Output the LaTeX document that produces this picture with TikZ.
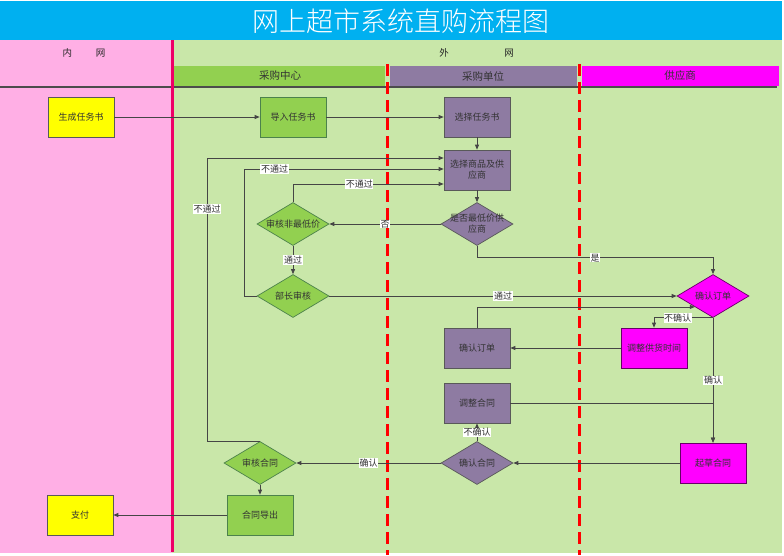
\documentclass[tikz,border=0pt]{standalone}
\usepackage{fontspec}
\setmainfont{Noto Sans CJK SC}
\newfontfamily\titlefont{Noto Sans CJK SC Light}
\usetikzlibrary{shapes.geometric,arrows.meta,calc}
\definecolor{titlebg}{HTML}{00B0F0}
\definecolor{pinkbg}{HTML}{FFAFE5}
\definecolor{greenbg}{HTML}{C9E7A9}
\definecolor{gnode}{HTML}{92D050}
\definecolor{pnode}{HTML}{8E7BA2}
\definecolor{mnode}{HTML}{FF00FF}
\definecolor{ynode}{HTML}{FFFF00}
\definecolor{crimson}{HTML}{EE0066}
\definecolor{lineclr}{HTML}{454545}
\begin{document}
\begin{tikzpicture}[x=1pt,y=-1pt,
  box/.style={draw=black!65, line width=0.7pt, minimum width=66pt, minimum height=40pt, inner sep=1pt, align=center, font=\fontsize{9}{11}\selectfont, text=black!80},
  dia/.style={draw=black!65, line width=0.7pt, diamond, minimum width=72pt, minimum height=43pt, inner sep=0pt},
  dtext/.style={align=center, font=\fontsize{9}{11}\selectfont, text=black!80, inner sep=0pt},
  conn/.style={draw=lineclr, line width=0.75pt, -{Triangle[length=5pt,width=4pt]}},
  lbl/.style={fill=white, inner sep=0.6pt, font=\fontsize{9}{10}\selectfont, text=black!80},
  lane/.style={minimum height=20pt, inner sep=0pt, font=\fontsize{10.5}{12}\selectfont, text=black!80},
  redline/.style={draw=red, line width=3pt, dash pattern=on 12pt off 6pt},
  mbord/.style={draw=violet!80!black},
  gbord/.style={draw=green!30!black!70}
]
\useasboundingbox (0,0) rectangle (784,555);
\fill[white] (0,0) rectangle (784,555);
% backgrounds
\fill[titlebg] (0,1) rectangle (782,40);
\fill[pinkbg] (0,40) rectangle (172,553);
\fill[greenbg] (172,40) rectangle (782,553);
\node[text=white, font=\titlefont\fontsize{27}{30}\selectfont] (title) at (401,21) {网上超市系统直购流程图};
\node[font=\fontsize{9.5}{11}\selectfont, text=black!85] (inner) at (84,53) {内\hspace{24pt}网};
\node[font=\fontsize{9.5}{11}\selectfont, text=black!85] (outer) at (476.5,53) {外\hspace{55.5pt}网};
% lane headers
\fill[gnode] (174,66) rectangle (385,86);
\fill[pnode] (390,66) rectangle (577,86);
\fill[mnode] (582,66) rectangle (779,86);
\node[lane] (l1) at (280,76) {采购中心};
\node[lane] (l2) at (483,76) {采购单位};
\node[lane] (l3) at (680,76) {供应商};
\draw[black!70, line width=1.5pt] (0,87) -- (777,87);
% separators
\draw[crimson, line width=3pt] (172,40) -- (172,552);
\draw[redline] (387,64) -- (387,555);
\draw[redline] (579,64) -- (579,555);
% nodes
\node[box, fill=ynode] (gen) at (81,117) {生成任务书};
\node[box, fill=gnode, gbord] (imp) at (293,117) {导入任务书};
\node[box, fill=pnode] (sel) at (477,117) {选择任务书};
\node[box, fill=pnode] (selg) at (477,170) {选择商品及供\\应商};
\node[dia, fill=pnode, label={[dtext]center:{是否最低价供\\应商}}] (isl) at (477,224) {};
\node[dia, fill=gnode, gbord, label={[dtext]center:审核非最低价}] (chk) at (293,224) {};
\node[dia, fill=gnode, gbord, label={[dtext]center:部长审核}] (mgr) at (293,296) {};
\node[dia, fill=mnode, mbord, label={[dtext]center:确认订单}] (cfd) at (713,296) {};
\node[box, fill=mnode, mbord] (adjt) at (654,348) {调整供货时间};
\node[box, fill=pnode] (cfo) at (477,348) {确认订单};
\node[box, fill=pnode] (adc) at (477,403) {调整合同};
\node[dia, fill=pnode, label={[dtext]center:确认合同}] (cfc) at (477,463) {};
\node[box, fill=mnode, mbord] (draft) at (713,463) {起草合同};
\node[dia, fill=gnode, gbord, label={[dtext]center:审核合同}] (ac) at (260,463) {};
\node[box, fill=gnode, gbord] (exp) at (260,515) {合同导出};
\node[box, fill=ynode] (pay) at (80,515) {支付};
% connectors
\draw[conn] (gen) -- (imp);
\draw[conn] (imp) -- (sel);
\draw[conn] (sel) -- (selg);
\draw[conn] (selg) -- (isl);
\draw[conn] (isl) -- node[lbl]{否} (chk);
\draw[conn] (chk) -- node[lbl]{通过} (mgr);
\draw[conn] (chk.north) |- node[lbl, pos=0.72]{不通过} ($(selg.west)+(0,14)$);
\draw[conn] (mgr.west) -- ++(-12,0) |- node[lbl, pos=0.575]{不通过} ($(selg.west)+(0,-1)$);
\draw[conn] (ac.north) -- ++(-53,0) |- node[lbl, pos=0.41]{不通过} ($(selg.west)+(0,-12)$);
\draw[conn] (mgr) -- node[lbl]{通过} (cfd);
\draw[conn] (isl.south) -- ++(0,12) -| node[lbl, pos=0.25]{是} (cfd.north);
\draw[conn] (cfd.south) -| node[lbl, pos=0.3]{不确认} (adjt.north);
\draw[conn] (cfd.south) -- node[lbl]{确认} (draft.north);
\draw[conn] (adjt) -- (cfo);
\draw[conn] (cfo.north) |- (cfd.south west);
\draw[conn] (adc.east) -| (draft.north);
\draw[conn] (draft) -- (cfc);
\draw[conn] (cfc) -- node[lbl]{不确认} (adc);
\draw[conn] (cfc) -- node[lbl]{确认} (ac);
\draw[conn] (ac) -- (exp);
\draw[conn] (exp) -- (pay);
\end{tikzpicture}
\end{document}
